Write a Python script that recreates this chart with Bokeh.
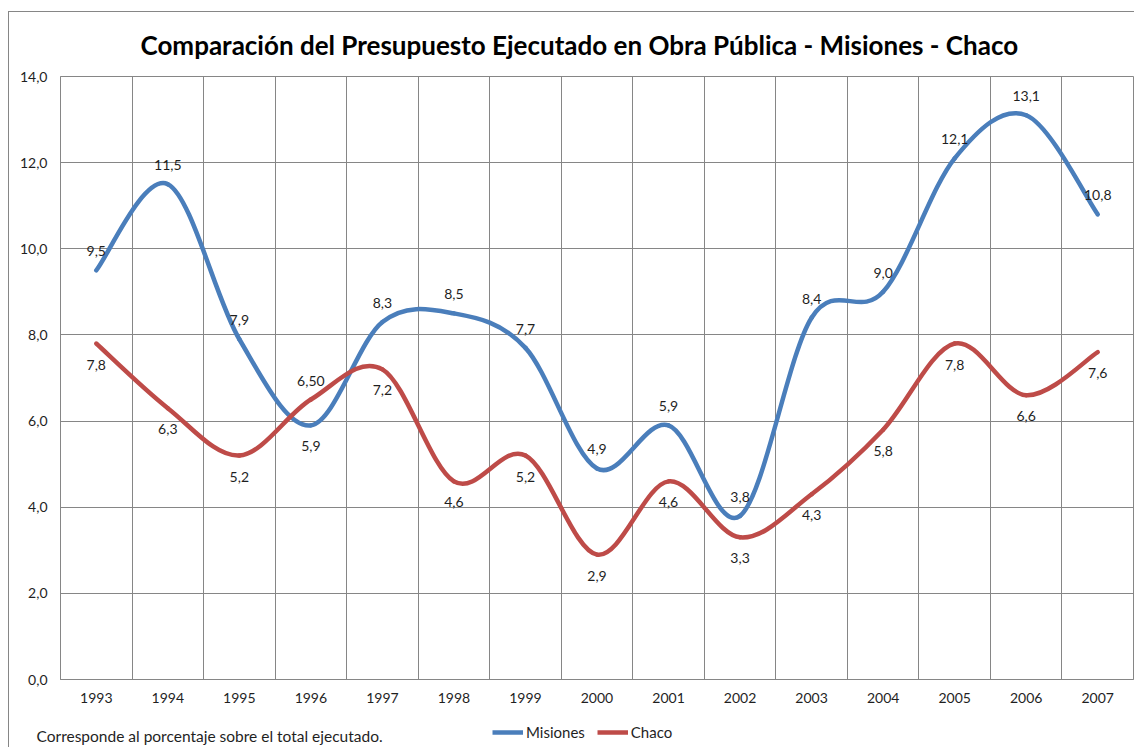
from bokeh.plotting import figure
from bokeh.models import (FixedTicker, ColumnDataSource, Legend, LegendItem,
                          Label, Range1d, InlineStyleSheet)
from bokeh.core.properties import value
from bokeh.embed import file_html
from bokeh.resources import INLINE

# ---------------- data ----------------
years = ["1993", "1994", "1995", "1996", "1997", "1998", "1999", "2000",
         "2001", "2002", "2003", "2004", "2005", "2006", "2007"]
misiones = [9.5, 11.5, 7.9, 5.9, 8.3, 8.5, 7.7, 4.9, 5.9, 3.8, 8.4, 9.0, 12.1, 13.1, 10.8]
chaco = [7.8, 6.3, 5.2, 6.5, 7.2, 4.6, 5.2, 2.9, 4.6, 3.3, 4.3, 5.8, 7.8, 6.6, 7.6]
chaco_text_override = {3: "6,50"}
y_ticks = [0, 2, 4, 6, 8, 10, 12, 14]

misiones_side = ["above"] * len(years)
misiones_side[3] = "below"
chaco_side = ["below"] * len(years)
chaco_side[3] = "above"

BLUE = "#4A7EBB"
RED = "#BE4B48"
GRID = "#868686"
TXT = "#1f1f1f"
FONT = "Lato"
W = 1134


def fmt(v):
    return f"{v:.1f}".replace(".", ",")


def smooth_source(vals):
    n = len(vals)
    xs = list(range(n))
    d = dict(x0=[], y0=[], x1=[], y1=[], cx0=[], cy0=[], cx1=[], cy1=[])
    for i in range(n - 1):
        a = max(i - 1, 0)
        b = min(i + 2, n - 1)
        d["x0"].append(xs[i]); d["y0"].append(vals[i])
        d["x1"].append(xs[i + 1]); d["y1"].append(vals[i + 1])
        d["cx0"].append(xs[i] + (xs[i + 1] - xs[a]) / 6)
        d["cy0"].append(vals[i] + (vals[i + 1] - vals[a]) / 6)
        d["cx1"].append(xs[i + 1] - (xs[b] - xs[i]) / 6)
        d["cy1"].append(vals[i + 1] - (vals[b] - vals[i]) / 6)
    return ColumnDataSource(d)


def label_source(vals, sides, overrides=None):
    overrides = overrides or {}
    texts = [overrides.get(i, fmt(v)) for i, v in enumerate(vals)]
    offs = [-19 if s == "above" else 21 for s in sides]
    return ColumnDataSource(dict(x=list(range(len(vals))), y=vals, t=texts, yo=offs))


border_top = InlineStyleSheet(css=(
    ":host{position:relative;}"
    ":host::after{content:'';position:absolute;left:8px;top:11px;right:0;bottom:0;"
    "border-left:1px solid #868686;border-top:1px solid #868686;pointer-events:none;}"))
border_bottom = InlineStyleSheet(css=(
    ":host{position:relative;}"
    ":host::after{content:'';position:absolute;left:8px;top:0;width:0;bottom:0;"
    "border-left:1px solid #868686;pointer-events:none;}"))

p = figure(width=W, height=715,
           x_range=Range1d(-0.5, len(years) - 0.5), y_range=Range1d(0, 14),
           output_backend="svg", toolbar_location=None,
           min_border_left=60, min_border_right=1,
           min_border_top=76, min_border_bottom=36,
           background_fill_color="white", border_fill_color="white")
p.stylesheets = [border_top]

p.title.text = "Comparación del Presupuesto Ejecutado en Obra Pública - Misiones - Chaco"
p.title.text_font = FONT
p.title.text_font_style = "bold"
p.title.text_font_size = "26px"
p.title.text_color = "black"
p.title.align = "left"
p.title.offset = 80
p.title.standoff = 32

p.outline_line_color = GRID

# axes
p.xaxis.ticker = FixedTicker(ticks=list(range(len(years))))
p.xaxis.major_label_overrides = {i: y for i, y in enumerate(years)}
p.yaxis.ticker = FixedTicker(ticks=y_ticks)
p.yaxis.major_label_overrides = {v: fmt(v) for v in y_ticks}
for ax in (p.xaxis, p.yaxis):
    ax.major_tick_line_color = None
    ax.minor_tick_line_color = None
    ax.axis_line_color = GRID
    ax.major_label_text_font = FONT
    ax.major_label_text_font_size = "14px"
    ax.major_label_text_color = TXT
p.xaxis.major_label_standoff = 7
p.yaxis.major_label_standoff = 7

# grids
p.xgrid.ticker = FixedTicker(ticks=[i - 0.5 for i in range(len(years) + 1)])
p.xgrid.grid_line_color = GRID
p.ygrid.grid_line_color = GRID

# smoothed lines
p.bezier(x0="x0", y0="y0", x1="x1", y1="y1", cx0="cx0", cy0="cy0", cx1="cx1", cy1="cy1",
         source=smooth_source(misiones), line_color=BLUE, line_width=4.5, line_cap="round")
p.bezier(x0="x0", y0="y0", x1="x1", y1="y1", cx0="cx0", cy0="cy0", cx1="cx1", cy1="cy1",
         source=smooth_source(chaco), line_color=RED, line_width=4.5, line_cap="round")

# data labels
for src in (label_source(misiones, misiones_side),
            label_source(chaco, chaco_side, chaco_text_override)):
    p.text(x="x", y="y", text="t", y_offset="yo", source=src,
           text_align="center", text_baseline="middle",
           text_font=value(FONT), text_font_size="14px", text_color=TXT)

# ---------------- footer strip: note + legend ----------------
f = figure(width=W, height=32, x_range=Range1d(0, 1), y_range=Range1d(100, 101),
           output_backend="svg", toolbar_location=None,
           min_border=0, x_axis_type=None, y_axis_type=None,
           background_fill_color=None, border_fill_color=None)
f.stylesheets = [border_bottom]
f.outline_line_color = None
f.xgrid.visible = False
f.ygrid.visible = False

# legend proxies: the series drawn outside this strip's visible range
r_m = f.line(x=list(range(len(years))), y=misiones, line_color=BLUE, line_width=4.5)
r_c = f.line(x=list(range(len(years))), y=chaco, line_color=RED, line_width=4.5)
legend = Legend(items=[LegendItem(label="Misiones", renderers=[r_m]),
                       LegendItem(label="Chaco", renderers=[r_c])],
                orientation="horizontal", location=(492, 5),
                border_line_color=None, background_fill_alpha=0,
                padding=0, margin=0, spacing=12, glyph_width=31, glyph_height=20,
                label_height=20, label_standoff=3,
                label_text_font=FONT, label_text_font_size="15px",
                label_text_color=TXT)
f.add_layout(legend, "center")

note = Label(x=36, y=12, x_units="screen", y_units="screen",
             text="Corresponde  al porcentaje sobre el total ejecutado.",
             text_font=FONT, text_font_size="15.5px", text_color=TXT,
             text_baseline="middle")
f.add_layout(note)

open("out.html", "w").write(file_html([p, f], INLINE))
